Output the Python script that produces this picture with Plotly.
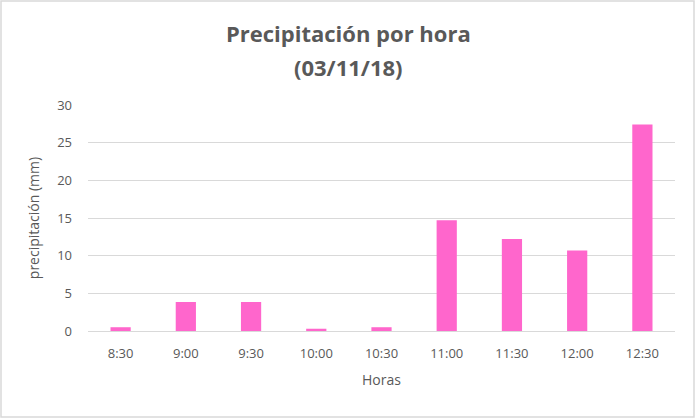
import plotly.graph_objects as go

horas = ["8:30", "9:00", "9:30", "10:00", "10:30", "11:00", "11:30", "12:00", "12:30"]
precipitacion = [0.5, 3.85, 3.85, 0.3, 0.5, 14.7, 12.2, 10.7, 27.4]

W, H = 696, 418
ml, mr, mt, mb = 88, 21, 105, 87
pw, ph = W - ml - mr, H - mt - mb

fig = go.Figure(go.Bar(x=horas, y=precipitacion, marker_color="#FF66CC", marker_line_width=0))

font_fam = "Open Sans, Liberation Sans, sans-serif"
title_font = dict(family=font_fam, size=22, color="#595959")
fig.update_layout(
    width=W, height=H,
    margin=dict(l=ml, r=mr, t=mt, b=mb),
    paper_bgcolor="white", plot_bgcolor="white",
    bargap=0.69,
    showlegend=False,
    font=dict(family=font_fam, size=13, color="#595959"),
    xaxis=dict(title=dict(text="Horas", font=dict(size=14, color="#595959"), standoff=14),
               showline=True, linecolor="#d9d9d9", linewidth=1, ticks="", tickfont=dict(size=13),
               ticklabelstandoff=10),
    yaxis=dict(title=dict(text="precipitación (mm)", font=dict(size=14, color="#595959"), standoff=14),
               range=[0, 30], dtick=5, showgrid=True, gridcolor="#d9d9d9", gridwidth=1,
               zeroline=False, showline=False, ticks="", tickfont=dict(size=13),
               ticklabelstandoff=15),
    annotations=[
        dict(text="<b>Precipitación por hora</b>", xref="paper", yref="paper",
             x=(348 - ml) / pw, y=1 + (mt - 33) / ph, xanchor="center", yanchor="middle",
             showarrow=False, font=title_font),
        dict(text="<b>(03/11/18)</b>", xref="paper", yref="paper",
             x=(348 - ml) / pw, y=1 + (mt - 67) / ph, xanchor="center", yanchor="middle",
             showarrow=False, font=title_font),
    ],
    shapes=[dict(type="rect", xref="paper", yref="paper",
                 x0=-ml / pw + 1 / pw, x1=1 + (mr - 2) / pw,
                 y0=-mb / ph + 1 / ph, y1=1 + (mt - 1) / ph,
                 line=dict(color="#d9d9d9", width=1.5), layer="below")],
)

fig.write_html("out.html", config={"displayModeBar": False})
with open("out.html", "r", encoding="utf-8") as f:
    html = f.read()
html = html.replace("<head>", "<head><style>html,body{margin:0;padding:0;overflow:hidden}</style>", 1)
with open("out.html", "w", encoding="utf-8") as f:
    f.write(html)
